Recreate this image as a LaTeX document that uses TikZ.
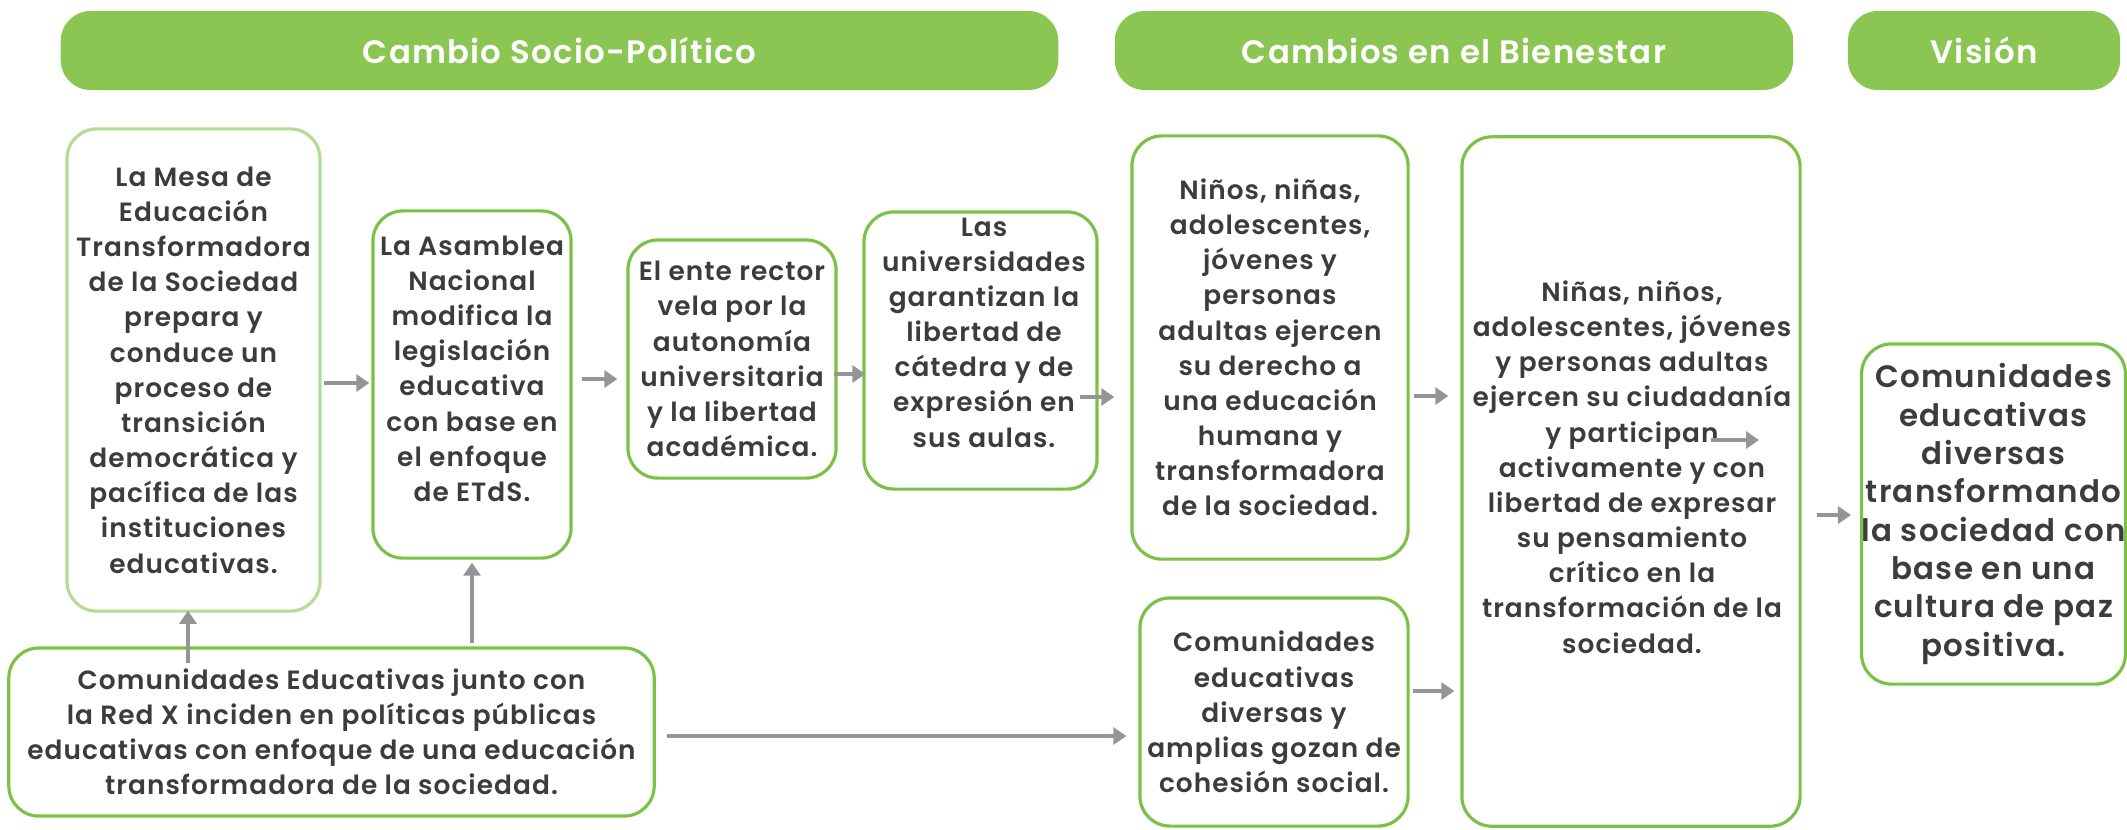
\documentclass[tikz,border=0pt]{standalone}
\usepackage{fontspec}
\setmainfont{Poppins}[UprightFont=* SemiBold, LetterSpace=4]
\newfontfamily\headfont{Poppins}[UprightFont=* SemiBold, LetterSpace=4]
\usepackage{tikz}
\usetikzlibrary{arrows,arrows.meta,shapes,positioning}
\definecolor{tcgreen}{RGB}{139,198,83}
\definecolor{tcborder}{RGB}{125,192,70}
\definecolor{tclight}{RGB}{180,220,150}
\definecolor{tcgray}{RGB}{147,149,152}
\definecolor{tctext}{RGB}{60,60,60}
\tikzstyle{arrow} = [line width=0.9pt,-{Triangle[length=1.3mm,width=1.7mm]},color=tcgray]
\tikzstyle{headbox} = [rectangle, rounded corners=0.3cm, fill=tcgreen, text=white, minimum height=0.79cm, font=\fontsize{9.2}{12}\headfont]
\tikzstyle{cardbox} = [rectangle, rounded corners=0.3cm, draw=tcborder, line width=0.9pt, align=center, text=tctext, inner sep=0pt, font=\fontsize{7.5}{10}\selectfont]
\tikzstyle{cardtext} = [align=center, text=tctext, inner sep=0pt, font=\fontsize{7.5}{10}\selectfont]

\begin{document}
\begin{tikzpicture}[x=0.01cm, y=-0.01cm]
\useasboundingbox (0,0) rectangle (2127,829);

% Headers
\node[headbox, minimum width=9.97cm] (hsocio) at (559.5,50.5) {Cambio Socio-Político};
\node[headbox, minimum width=6.78cm] (hbien) at (1454,50.5) {Cambios en el Bienestar};
\node[headbox, minimum width=2.72cm] (hvision) at (1984,50.5) {Visión};

% Cambio socio-politico
\node[cardbox, draw=tclight, minimum width=2.53cm, minimum height=4.82cm] (mesa) at (193.5,370) {La Mesa de\\Educación\\Transformadora\\de la Sociedad\\prepara y\\conduce un\\proceso de\\transición\\democrática y\\pacífica de las\\instituciones\\educativas.};
\node[cardbox, minimum width=1.98cm, minimum height=3.47cm] (asamblea) at (472,384.5) {};
\node[cardtext, anchor=north] (asambleaT) at (472,235) {La Asamblea\\Nacional\\modifica la\\legislación\\educativa\\con base en\\el enfoque\\de ETdS.};
\node[cardbox, minimum width=2.08cm, minimum height=2.38cm] (rector) at (732,359) {El ente rector\\vela por la\\autonomía\\universitaria\\y la libertad\\académica.};
\node[cardbox, minimum width=2.33cm, minimum height=2.77cm] (univ) at (980.5,350.5) {};
\node[cardtext, anchor=north] (univT) at (984,217) {Las\\universidades\\garantizan la\\libertad de\\cátedra y de\\expresión en\\sus aulas.};
\node[cardbox, minimum width=6.45cm, minimum height=1.68cm] (red) at (331.5,732) {Comunidades Educativas junto con\\la Red X inciden en políticas públicas\\educativas con enfoque de una educación\\transformadora de la sociedad.};

% Cambios en el bienestar
\node[cardbox, minimum width=2.76cm, minimum height=4.23cm] (ninos) at (1270,347.5) {Niños, niñas,\\adolescentes,\\jóvenes y\\personas\\adultas ejercen\\su derecho a\\una educación\\humana y\\transformadora\\de la sociedad.};
\node[cardbox, minimum width=2.68cm, minimum height=2.28cm] (cohesion) at (1274,712) {Comunidades\\educativas\\diversas y\\amplias gozan de\\cohesión social.};
\node[cardbox, minimum width=3.38cm, minimum height=6.89cm] (ciudadania) at (1631,481.5) {};
\node[cardtext, anchor=north] (ciudadaniaT) at (1632,280) {Niñas, niños,\\adolescentes, jóvenes\\y personas adultas\\ejercen su ciudadanía\\y participan\\activamente y con\\libertad de expresar\\su pensamiento\\crítico en la\\transformación de la\\sociedad.};

% Vision
\node[cardbox, minimum width=2.63cm, minimum height=3.40cm, font=\fontsize{8.8}{10.9}\selectfont] (vision) at (1993.5,514) {Comunidades\\educativas\\diversas\\transformando\\la sociedad con\\base en una\\cultura de paz\\positiva.};

% Arrows
\draw[arrow] ([shift={(2,13)}]mesa.east) -- ([shift={(-2,-1.5)}]asamblea.west);
\draw[arrow] ([shift={(9,-5.5)}]asamblea.east) -- ([shift={(-9,20)}]rector.west);
\draw[arrow] ([shift={(-4,15)}]rector.east) -- ([shift={(3,23.5)}]univ.west);
\draw[arrow] ([shift={(-19,46.5)}]univ.east) -- ([shift={(-16,49.5)}]ninos.west);
\draw[arrow] ([shift={(4,48.5)}]ninos.east) -- ([shift={(-12,-85.5)}]ciudadania.west);
\draw[arrow] ([shift={(3,-21)}]cohesion.east) -- ([shift={(-6,209.5)}]ciudadania.west);
\coordinate (partA) at ([shift={(80,-41.5)}]ciudadania.center);
\coordinate (partB) at ([shift={(128,-41.5)}]ciudadania.center);
\draw[arrow] (partA) -- (partB);
\draw[arrow] ([shift={(15,33.5)}]ciudadania.east) -- ([shift={(-9,1)}]vision.west);
\draw[arrow] ([shift={(11,4)}]red.east) -- ([shift={(-12,24)}]cohesion.west);
\draw[arrow] ([shift={(-143.5,17)}]red.north) -- ([shift={(-5.5,-2)}]mesa.south);
\draw[arrow] ([shift={(140.5,-3)}]red.north) -- ([shift={(0,3)}]asamblea.south);
\end{tikzpicture}
\end{document}
